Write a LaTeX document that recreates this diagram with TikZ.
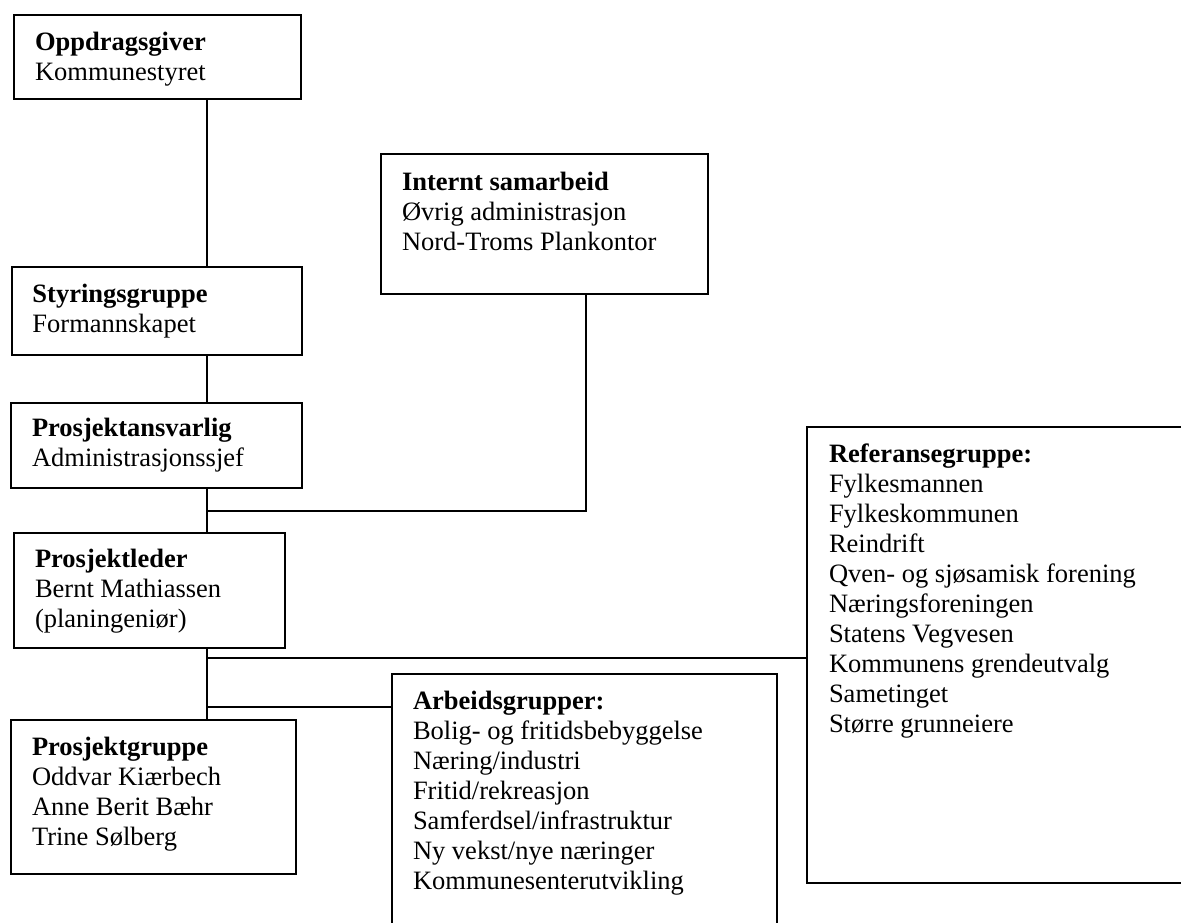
\documentclass[tikz,border=0pt]{standalone}
\usepackage{fontspec}
\setmainfont{Liberation Serif}
\newcommand\bxtext[5]{\parbox[t][#2pt][t]{#1pt}{\leftskip=#3pt\relax\rule{0pt}{#4pt}#5}}
\tikzset{
  orgbox/.style={draw, line width=1.6pt, anchor=north west, inner sep=0pt, outer sep=0pt,
    font=\fontsize{26.5pt}{30pt}\selectfont},
  conn/.style={line width=1.6pt}
}
\begin{document}
\begin{tikzpicture}[x=1pt,y=1pt]
\useasboundingbox (0,0) rectangle (1181,-922);
\clip (0,0) rectangle (1181,-922);
\fill[white] (0,0) rectangle (1181,-922);

\node[orgbox] (opp) at (14,-15) {\bxtext{287}{84}{21}{35.5}{\textbf{Oppdragsgiver}\\Kommunestyret}};
\node[orgbox] (styr) at (12,-267) {\bxtext{290}{88}{20.5}{35.5}{\textbf{Styringsgruppe}\\Formannskapet}};
\node[orgbox] (pa) at (11,-403) {\bxtext{291}{85}{21}{33.7}{\textbf{Prosjektansvarlig}\\Administrasjonssjef}};
\node[orgbox] (pl) at (14,-533) {\bxtext{271}{115}{21}{34.3}{\textbf{Prosjektleder}\\Bernt Mathiassen\\(planingeniør)}};
\node[orgbox] (pg) at (11,-720) {\bxtext{285}{154}{21}{35}{\textbf{Prosjektgruppe}\\Oddvar Kiærbech\\Anne Berit Bæhr\\Trine Sølberg}};
\node[orgbox] (int) at (381,-154) {\bxtext{327}{140}{21}{36}{\textbf{Internt samarbeid}\\Øvrig administrasjon\\Nord-Troms Plankontor}};
\node[orgbox] (arb) at (392,-674) {\bxtext{385}{270}{21}{35.3}{\textbf{Arbeidsgrupper:}\\Bolig- og fritidsbebyggelse\\Næring/industri\\Fritid/rekreasjon\\Samferdsel/infrastruktur\\Ny vekst/nye næringer\\Kommunesenterutvikling}};
\node[orgbox] (ref) at (807,-427) {\bxtext{390}{456}{22}{35.7}{\textbf{Referansegruppe:}\\Fylkesmannen\\Fylkeskommunen\\Reindrift\\Qven- og sjøsamisk forening\\Næringsforeningen\\Statens Vegvesen\\Kommunens grendeutvalg\\Sametinget\\Større grunneiere}};

\coordinate (spine) at (206.7,0);
\coordinate (intx) at (586,0);
\coordinate (j1) at (206.7,-510.7);
\coordinate (j2) at (206.7,-658);
\coordinate (j3) at (206.7,-706.7);

\draw[conn] (opp.south -| spine) -- (styr.north -| spine);
\draw[conn] (styr.south -| spine) -- (pa.north -| spine);
\draw[conn] (pa.south -| spine) -- (pl.north -| spine);
\draw[conn] (int.south -| intx) |- (j1);
\draw[conn] (pl.south -| spine) -- (pg.north -| spine);
\draw[conn] (j2) -- (j2 -| ref.west);
\draw[conn] (j3) -- (j3 -| arb.west);
\end{tikzpicture}
\end{document}
